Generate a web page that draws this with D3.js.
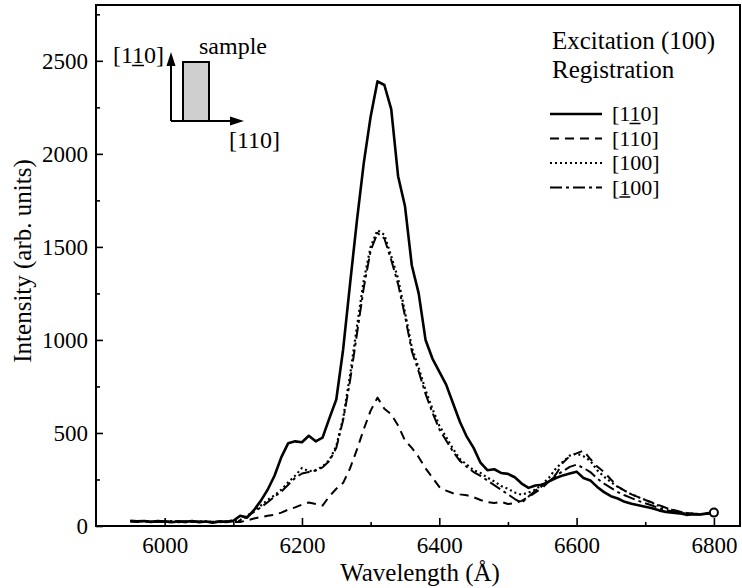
<!DOCTYPE html>
<html><head><meta charset="utf-8">
<script src="https://cdn.jsdelivr.net/npm/d3@7/dist/d3.min.js"></script>
<style>
html,body{margin:0;padding:0;background:#fff;}
text{font-family:"Liberation Serif","Times New Roman",serif;fill:#000;}
</style></head>
<body><svg id="chart" width="742" height="588"></svg>
<script>
// ---- data ----
const wavelengths = d3.range(5950, 6801, 10);
const seriesNames = ["[110]", "[110]", "[100]", "[100]"];
const underlineIndex = [2, -1, -1, 1];
const solid110bar = [28,25,27,22,26,24,20,25,22,27,20,24,18,25,22,
 28,55,45,85,135,195,270,370,445,455,
 450,485,455,475,580,680,950,1300,1640,1950,
 2200,2390,2370,2240,1880,1720,1400,1250,1000,900,
 830,760,660,560,480,420,340,300,305,285,
 280,262,228,205,218,222,240,258,272,282,
 292,258,245,210,182,160,148,130,120,112,
 104,95,84,76,72,68,60,64,62,68,
 72];
const dashed110 = [24,22,25,21,24,23,26,20,24,22,25,21,23,20,24,
 22,22,30,40,48,55,60,72,88,100,
 115,126,118,110,160,200,232,310,410,520,
 620,690,630,600,540,460,420,370,310,260,
 210,190,176,170,165,155,140,128,124,130,
 118,124,135,156,180,205,240,278,340,375,
 390,405,360,320,290,250,212,190,170,155,
 140,126,112,98,88,78,70,66,62,65,
 70];
const dotted100 = [26,24,28,23,25,22,27,24,21,26,23,25,20,24,26,
 30,32,55,80,110,140,165,195,235,270,
 312,295,300,320,355,430,580,810,1070,1320,
 1500,1590,1565,1450,1330,1150,960,850,730,630,
 540,478,415,360,330,300,285,260,240,215,
 200,180,168,180,195,225,260,310,345,378,
 390,375,350,300,265,236,210,190,170,155,
 140,125,108,97,85,75,70,66,64,66,
 70];
const dashdot100bar = [25,27,23,26,22,25,24,21,25,23,26,22,24,21,23,
 26,30,50,75,100,128,158,185,222,258,
 282,290,298,315,350,420,570,780,1030,1280,
 1480,1575,1545,1430,1300,1130,940,830,710,610,
 520,460,400,350,318,290,270,245,220,195,
 170,145,125,158,190,215,240,270,295,318,
 330,312,290,255,228,205,182,165,150,135,
 122,110,96,86,78,72,66,63,62,66,
 70];
const seriesValues = [solid110bar, dashed110, dotted100, dashdot100bar];
const xMajorTicks = [6000, 6200, 6400, 6600, 6800];
const xMinorTicks = [6100, 6300, 6500, 6700];
const yMajorTicks = [0, 500, 1000, 1500, 2000, 2500];
const yMinorTicks = [250, 750, 1250, 1750, 2250, 2750];

// ---- styles ----
const FONT = '"Liberation Serif","Times New Roman",serif';
const dashes = [null, "9,6", "2,3", "12,4,3,4"];
const widths = [2.6, 2, 2.2, 2];

const svg = d3.select("#chart");
const L = 96, R = 740, T = 5, B = 526;
const x = d3.scaleLinear().domain([5900, 6838]).range([L, R]);
const y = d3.scaleLinear().domain([0, 2800]).range([B, T]);

// axes
svg.append("g").attr("transform", `translate(0,${B})`)
  .call(d3.axisBottom(x).tickValues(xMajorTicks).tickSize(-8).tickPadding(10.5).tickFormat(d3.format("d")));
svg.append("g").attr("transform", `translate(0,${B})`)
  .call(d3.axisBottom(x).tickValues(xMinorTicks).tickSize(-4).tickFormat(""));
svg.append("g").attr("transform", `translate(${L},0)`)
  .call(d3.axisLeft(y).tickValues(yMajorTicks).tickSize(-7).tickPadding(8).tickFormat(d3.format("d")));
svg.append("g").attr("transform", `translate(${L},0)`)
  .call(d3.axisLeft(y).tickValues(yMinorTicks).tickSize(-4).tickFormat(""));
svg.selectAll("g").attr("font-family", FONT);
svg.selectAll(".domain").remove();
svg.selectAll(".tick line").attr("stroke", "#000").attr("stroke-width", 1.6);
svg.selectAll(".tick text").style("font-family", FONT).style("font-size", "23px").attr("fill", "#000");

// frame
svg.append("rect").attr("x", L).attr("y", T).attr("width", R - L).attr("height", B - T)
  .attr("fill", "none").attr("stroke", "#000").attr("stroke-width", 2);

// axis titles
svg.append("text").attr("x", 420).attr("y", 581).attr("text-anchor", "middle")
  .style("font-size", "25px").text("Wavelength (Å)");
svg.append("text").attr("transform", "translate(31,261) rotate(-90)").attr("text-anchor", "middle")
  .style("font-size", "25px").text("Intensity (arb. units)");

// lines
const line = d3.line().x((d, i) => x(wavelengths[i])).y(d => y(d));
seriesValues.forEach((vals, k) => {
  svg.append("path").datum(vals).attr("d", line)
    .attr("fill", "none").attr("stroke", "#000").attr("stroke-width", widths[k])
    .attr("stroke-linejoin", "round")
    .attr("stroke-dasharray", dashes[k]);
});
// end marker
const last = wavelengths.length - 1;
svg.append("circle").attr("cx", x(wavelengths[last])).attr("cy", y(solid110bar[last])).attr("r", 4)
  .attr("fill", "#fff").attr("stroke", "#000").attr("stroke-width", 2);

// text with one underlined character (drawn as a line)
function labelText(g, xx, yy, str, ui, size) {
  const t = g.append("text").attr("x", xx).attr("y", yy).style("font-size", size + "px").text(str);
  if (ui >= 0) {
    const node = t.node();
    const x0 = xx + node.getSubStringLength(0, ui);
    const w = node.getSubStringLength(ui, 1);
    g.append("line").attr("x1", x0).attr("x2", x0 + w)
      .attr("y1", yy + 2.5).attr("y2", yy + 2.5).attr("stroke", "#000").attr("stroke-width", 1.5);
  }
  return t;
}

// legend
svg.append("text").attr("x", 552).attr("y", 49).style("font-size", "25px").text("Excitation (100)");
svg.append("text").attr("x", 552).attr("y", 78).style("font-size", "25px").text("Registration");
const rowY = [114, 138.5, 163, 187.5];
seriesNames.forEach((nm, k) => {
  svg.append("line").attr("x1", 550).attr("x2", 602).attr("y1", rowY[k]).attr("y2", rowY[k])
    .attr("stroke", "#000").attr("stroke-width", widths[k]).attr("stroke-dasharray", dashes[k]);
  labelText(svg, 612, rowY[k] + 7, nm, underlineIndex[k], 22);
});

// inset sketch
const ins = svg.append("g");
ins.append("rect").attr("x", 183).attr("y", 62).attr("width", 26).attr("height", 59)
  .attr("fill", "#cfcfcf").attr("stroke", "#000").attr("stroke-width", 2);
ins.append("line").attr("x1", 171).attr("y1", 121).attr("x2", 171).attr("y2", 62).attr("stroke", "#000").attr("stroke-width", 2);
ins.append("line").attr("x1", 171).attr("y1", 121).attr("x2", 232).attr("y2", 121).attr("stroke", "#000").attr("stroke-width", 2);
ins.append("path").attr("d", "M171,52 L166.5,66 L175.5,66 Z").attr("fill", "#000");
ins.append("path").attr("d", "M244,121 L230,116.5 L230,125.5 Z").attr("fill", "#000");
labelText(ins, 113, 63, "[110]", 2, 24);
ins.append("text").attr("x", 199).attr("y", 54).style("font-size", "24px").text("sample");
ins.append("text").attr("x", 229).attr("y", 148).style("font-size", "24px").text("[110]");
</script></body></html>
